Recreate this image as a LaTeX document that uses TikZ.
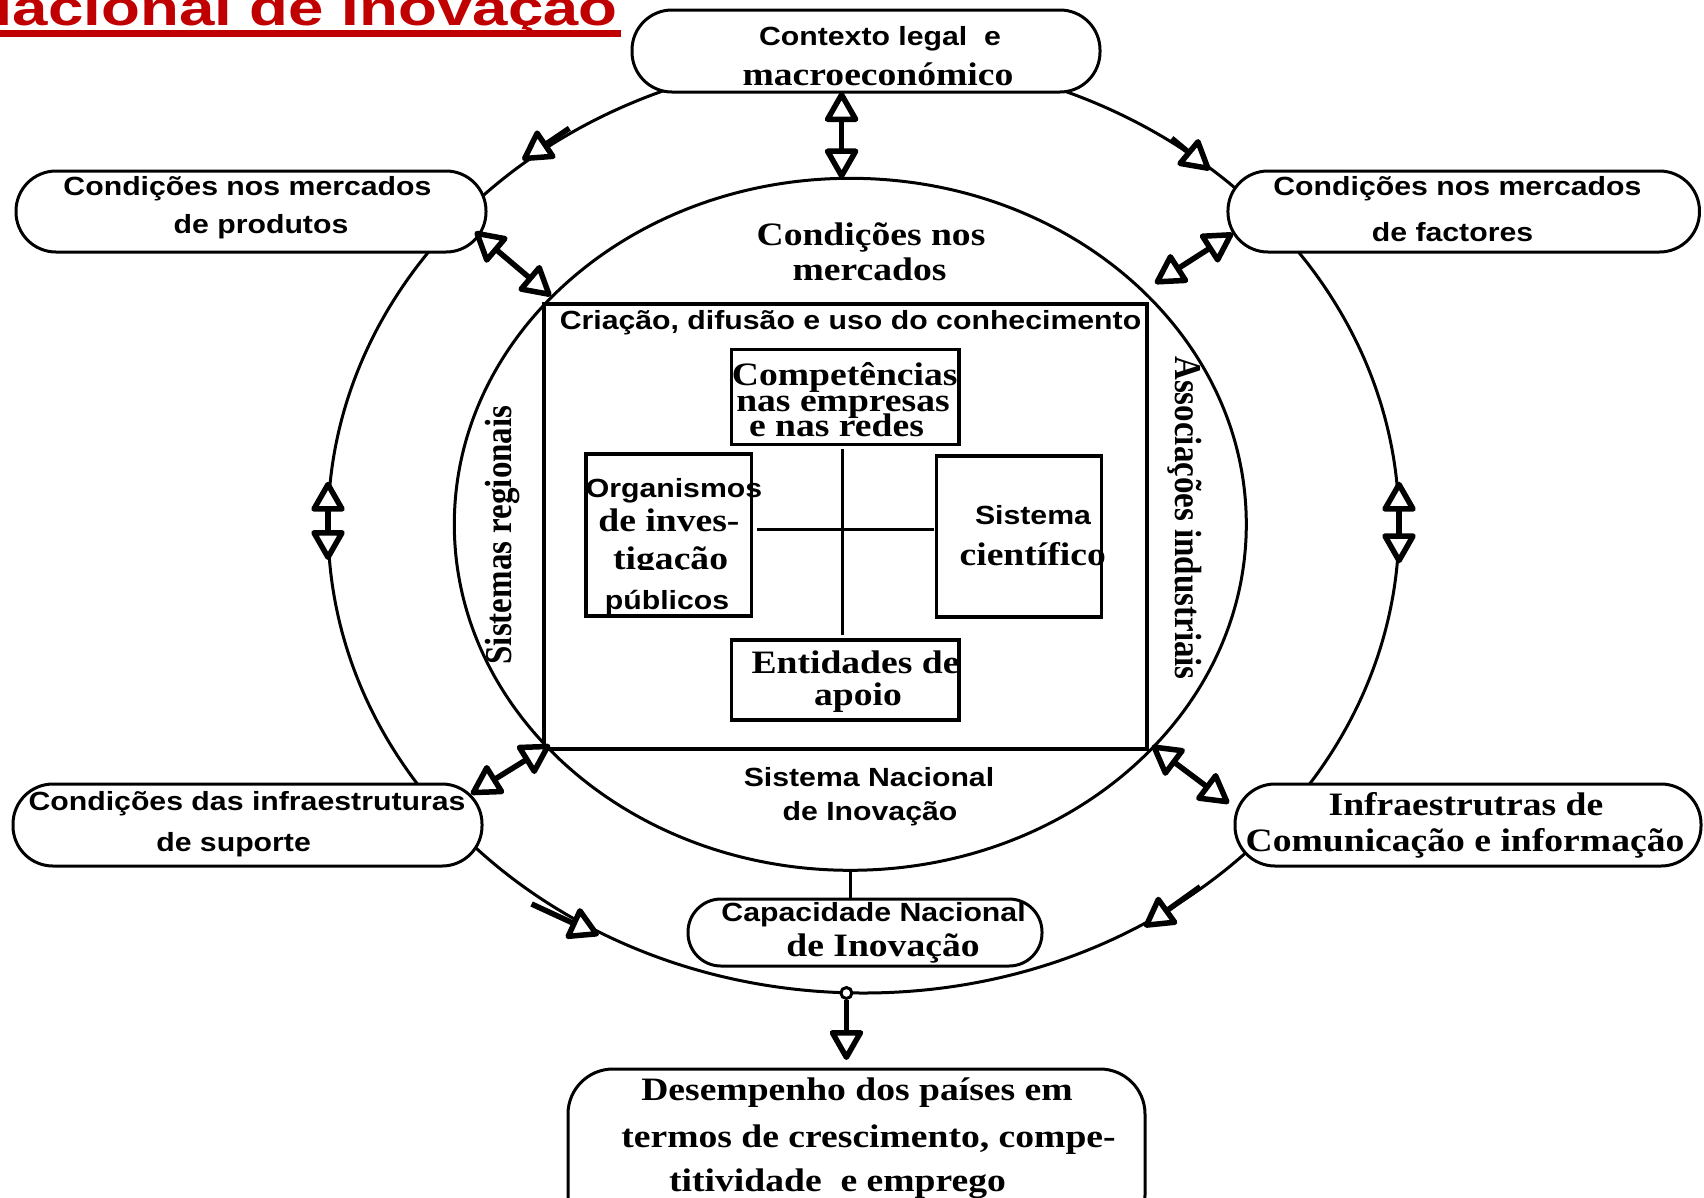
\documentclass[tikz,border=0pt]{standalone}
\usepackage{fontspec}
\usepackage{graphicx}
\usetikzlibrary{arrows.meta,shapes.geometric}
\newfontfamily\fontTm{Liberation Serif}[FakeStretch=1.15]
\newfontfamily\fontAr{Liberation Sans}[FakeStretch=1.15]
\newfontfamily\fontTmV{Liberation Serif}
\newfontfamily\fontArT{Liberation Sans}
\definecolor{titlered}{HTML}{C00000}
\newcommand\tmb{\fontTm\bfseries\fontsize{32.7}{36}\selectfont}
\newcommand\arb{\fontAr\bfseries\fontsize{26.3}{30}\selectfont}
\newcommand\tmv{\fontTmV\bfseries\fontsize{33}{36}\selectfont}
\begin{document}
\begin{tikzpicture}[x=1pt,y=-1pt,
  dbl/.style={line width=5.5pt,{Triangle[fill=white,round,length=33pt,width=36pt]}-{Triangle[fill=white,round,length=33pt,width=36pt]}},
  one/.style={line width=5.5pt,-{Triangle[fill=white,round,length=33pt,width=36pt]}},
  ringline/.style={draw,line width=3pt,ellipse,inner sep=0pt,outer sep=0pt},
  stad/.style={draw,line width=3pt,fill=white,rectangle,rounded corners=40pt,inner sep=0pt,outer sep=0pt},
  box/.style={draw,line width=3.5pt,fill=white,rectangle,inner sep=0pt,outer sep=0pt},
  txt/.style={inner sep=0pt,outer sep=0pt,anchor=base},
  tm/.style={txt,font=\tmb},
  ar/.style={txt,font=\arb},
]
\useasboundingbox (0,0) rectangle (1704,1197);
\clip (0,0) rectangle (1704,1197);

% title (cropped by the page edge)
\node[txt,anchor=base west,text=titlered,font=\fontArT\bfseries\fontsize{50}{54}\selectfont] (title) at (-33,25) {\scalebox{1.273}[1]{Nacional de Inovação}};
\fill[titlered] (-40,30) rectangle (621,37);

% rings and square
\node[ringline,minimum width=1071pt,minimum height=936pt] (outer) at (863.5,525) {};
\node[ringline,minimum width=792pt,minimum height=692pt] (inner) at (850.3,524.3) {};
\node[draw,line width=3.5pt,rectangle,minimum width=603pt,minimum height=445pt,inner sep=0pt,outer sep=0pt] (sq) at (845.5,526.5) {};

% inner labels
\node[tm] (cm1) at (871,245.7) {Condições nos};
\node[tm] (cm2) at (869.5,280) {mercados};
\node[ar] (cdu) at (850.5,329.3) {Criação, difusão e uso do conhecimento};
\node[ar] (sn1) at (869,786.7) {Sistema Nacional};
\node[ar] (sn2) at (870,820) {de Inovação};
\node[txt,rotate=90,font=\tmv] (sr) at (511,535) {\scalebox{1}[1.15]{Sistemas regionais}};
\node[txt,rotate=-90,font=\tmv] (ai) at (1175,518) {\scalebox{1}[1.15]{Associações industriais}};

% inner boxes
\node[box,minimum width=227.8pt,minimum height=95pt] (comp) at (845.3,396.8) {};
\node[box,minimum width=165.3pt,minimum height=161.7pt] (org) at (668.7,534.9) {};
\node[box,minimum width=165.3pt,minimum height=160.7pt] (sci) at (1018.9,536.4) {};
\node[box,minimum width=227.8pt,minimum height=80pt] (ent) at (845.3,680) {};
\coordinate (cross) at (842.4,529.3);
\draw[line width=3.5pt,shorten <=5pt,shorten >=5pt] (cross |- comp.south) -- (cross |- ent.north);
\draw[line width=3.5pt,shorten <=6pt,shorten >=2pt] (cross -| org.east) -- (cross -| sci.west);

\node[tm] (c1) at (844.7,385) {Competências};
\node[tm] (c2) at (843,411.7) {nas empresas};
\node[tm] (c3) at (836.5,436) {e nas redes};
\node[ar] (o1) at (674,497.7) {Organismos};
\node[tm] (o2) at (669,531.7) {de inves-};
\node[tm] (o3) at (670.6,569.3) {tigação};
\node[ar,fill=white,text height=39pt,text depth=4pt] (o4) at (667,609.3) {públicos};
\node[ar] (s1) at (1033,524.3) {Sistema};
\node[tm] (s2) at (1032.7,565) {científico};
\node[tm] (e1) at (855.5,673.3) {Entidades de};
\node[tm] (e2) at (858,705) {apoio};

% outer nodes
\node[stad,minimum width=468pt,minimum height=82pt] (ctx) at (866,51) {};
\node[ar] (ctx1) at (880,45.6) {Contexto legal~ e};
\node[tm] (ctx2) at (878,85) {macroeconómico};

\node[stad,minimum width=470pt,minimum height=81pt] (lt) at (251,211.5) {};
\node[ar] (lt1) at (247.5,195) {Condições nos mercados};
\node[ar] (lt2) at (261,233) {de produtos};

\node[stad,minimum width=471.5pt,minimum height=81pt] (rt) at (1463.7,211.5) {};
\node[ar] (rt1) at (1457.4,195) {Condições nos mercados};
\node[ar] (rt2) at (1452.5,241.7) {de factores};

\node[stad,minimum width=469pt,minimum height=82pt] (lb) at (247.5,825) {};
\node[ar] (lb1) at (247,810) {Condições das infraestruturas};
\node[ar] (lb2) at (233.6,851.7) {de suporte};

\node[stad,minimum width=466pt,minimum height=82pt] (rb) at (1468,825) {};
\node[tm] (rb1) at (1466,815) {Infraestrutras de};
\node[tm] (rb2) at (1465,851.7) {Comunicação e informação};

\node[stad,rounded corners=33pt,minimum width=354pt,minimum height=67pt] (cap) at (865,932.5) {};
\node[ar] (cap1) at (873.6,921.7) {Capacidade Nacional};
\node[tm] (cap2) at (883,956.7) {de Inovação};

\node[stad,rounded corners=45pt,minimum width=577pt,minimum height=171pt] (des) at (856.5,1154.5) {};
\node[tm] (d1) at (857,1100) {Desempenho dos países em};
\node[tm] (d2) at (868.5,1147.3) {termos de crescimento, compe-};
\node[tm] (d3) at (837.5,1191.7) {titividade~ e emprego};

% connectors
\draw[line width=3pt] (inner.south) -- (inner.south |- cap.north);
\coordinate (aTop) at (841.6,178.5);
\draw[dbl] (ctx.south -| aTop) -- (aTop);
\coordinate (aB1) at (475,231.7);   \coordinate (aB2) at (551,296);
\draw[dbl] (aB1) -- (aB2);
\coordinate (aC1) at (1155,283.3);  \coordinate (aC2) at (1233,233.3);
\draw[dbl] (aC1) -- (aC2);
\coordinate (aD1) at (550,745);     \coordinate (aD2) at (471,794);
\draw[dbl] (aD1) -- (aD2);
\coordinate (aE1) at (1152,745.5);  \coordinate (aE2) at (1229,803.3);
\draw[dbl] (aE1) -- (aE2);
\coordinate (aF1) at (328,481.7);   \coordinate (aF2) at (328,560);
\draw[dbl] (aF1) -- (aF2);
\coordinate (aG1) at (1399,481.7);  \coordinate (aG2) at (1399,563.3);
\draw[dbl] (aG1) -- (aG2);

% flow arrows on the outer ring
\coordinate (rTL1) at (569.3,128.3);  \coordinate (rTL2) at (522.4,160);
\draw[one] (rTL1) -- (rTL2);
\coordinate (rTR1) at (1171.7,138.3); \coordinate (rTR2) at (1210,170);
\draw[one] (rTR1) -- (rTR2);
\coordinate (rBL1) at (531.6,904);    \coordinate (rBL2) at (598.8,935);
\draw[one] (rBL1) -- (rBL2);
\coordinate (rBR1) at (1200.2,886.7); \coordinate (rBR2) at (1144.3,926.7);
\draw[one] (rBR1) -- (rBR2);

% output arrow
\node[circle,draw,line width=3pt,fill=white,minimum size=11pt,inner sep=0pt] (dot) at (846.4,993) {};
\draw[one,shorten >=9pt] (dot.south) -- (dot.south |- des.north);
\end{tikzpicture}
\end{document}
